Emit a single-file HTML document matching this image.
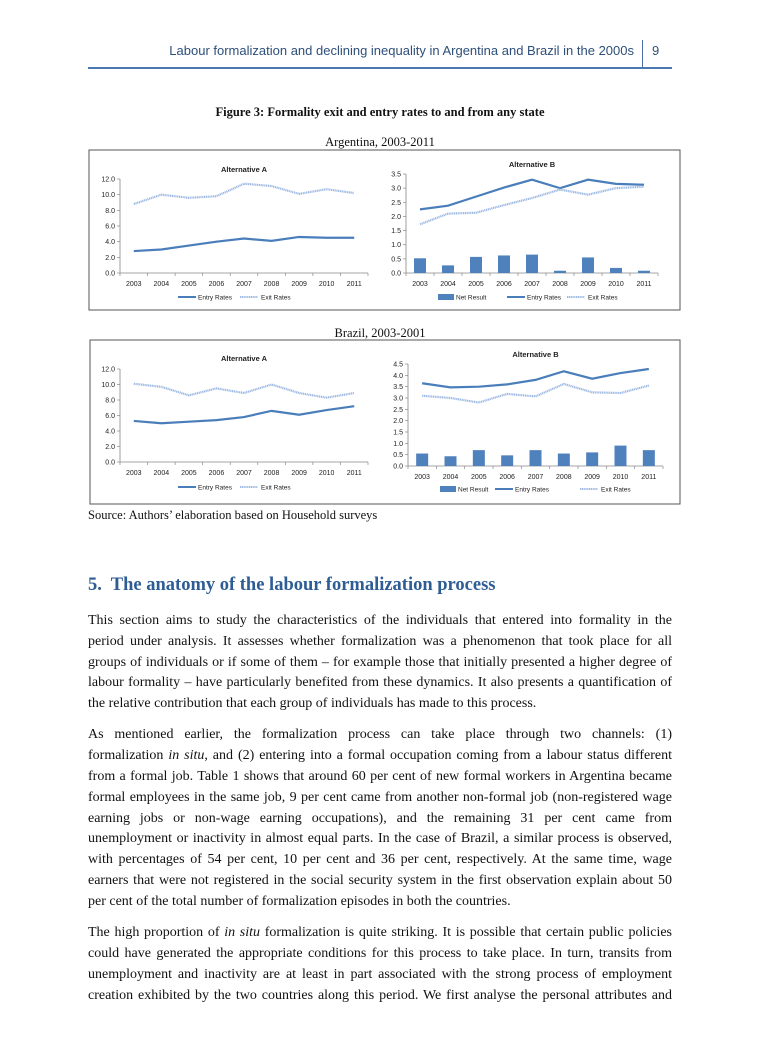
<!DOCTYPE html>
<html><head><meta charset="utf-8">
<style>
body{margin:0;background:#fff;}
#page{position:relative;width:760px;height:1062px;overflow:hidden;background:#fff;font-family:"Liberation Serif",serif;color:#111;}
.abs{position:absolute;}
.ln{position:absolute;left:88px;width:584px;font-size:14px;white-space:nowrap;text-align:justify;text-align-last:justify;}
.ln.last{text-align-last:left;}
svg text{font-family:"Liberation Sans",sans-serif;}
</style></head><body>
<div id="page">
<div class="abs" style="right:126px;top:43px;font-family:'Liberation Sans',sans-serif;font-size:13px;color:#2e4f7a;">Labour formalization and declining inequality in Argentina and Brazil in the 2000s</div>
<div class="abs" style="left:642px;top:40px;width:1px;height:27px;background:#4a6fa5;"></div>
<div class="abs" style="left:652px;top:43px;font-family:'Liberation Sans',sans-serif;font-size:13px;color:#2e4f7a;">9</div>
<div class="abs" style="left:88px;top:67px;width:584px;height:2px;background:#4a78b0;"></div>
<div class="abs" style="left:0;width:760px;text-align:center;top:105px;font-size:12.5px;font-weight:bold;">Figure 3: Formality exit and entry rates to and from any state</div>
<div class="abs" style="left:0;width:760px;text-align:center;top:135px;font-size:12.5px;">Argentina, 2003-2011</div>
<div class="abs" style="left:0;width:760px;text-align:center;top:326px;font-size:12.5px;">Brazil, 2003-2001</div>
<div class="abs" style="left:88px;top:508px;font-size:12.5px;">Source: Authors’ elaboration based on Household surveys</div>

<svg class="abs" style="left:0;top:0" width="760" height="560" id="charts">
<rect x="89" y="150" width="591" height="160" fill="none" stroke="#555" stroke-width="1"/>
<rect x="90" y="340" width="590" height="164" fill="none" stroke="#555" stroke-width="1"/>
</svg>

<div class="abs" style="left:88px;top:575px;font-size:18.5px;font-weight:bold;color:#2e5c94;font-family:'Liberation Serif',serif;">5.&nbsp; The anatomy of the labour formalization process</div>

<div>
<div class="ln" style="top:613px">This section aims to study the characteristics of the individuals that entered into formality in the</div>
<div class="ln" style="top:634px">period under analysis. It assesses whether formalization was a phenomenon that took place for all</div>
<div class="ln" style="top:655px">groups of individuals or if some of them – for example those that initially presented a higher degree of</div>
<div class="ln" style="top:675px">labour formality – have particularly benefited from these dynamics. It also presents a quantification of</div>
<div class="ln last" style="top:696px">the relative contribution that each group of individuals has made to this process.</div>
</div>
<div>
<div class="ln" style="top:727px">As mentioned earlier, the formalization process can take place through two channels: (1)</div>
<div class="ln" style="top:748px">formalization <i>in situ</i>, and (2) entering into a formal occupation coming from a labour status different</div>
<div class="ln" style="top:769px">from a formal job. Table 1 shows that around 60 per cent of new formal workers in Argentina became</div>
<div class="ln" style="top:790px">formal employees in the same job, 9 per cent came from another non-formal job (non-registered wage</div>
<div class="ln" style="top:811px">earning jobs or non-wage earning occupations), and the remaining 31 per cent came from</div>
<div class="ln" style="top:831px">unemployment or inactivity in almost equal parts. In the case of Brazil, a similar process is observed,</div>
<div class="ln" style="top:852px">with percentages of 54 per cent, 10 per cent and 36 per cent, respectively. At the same time, wage</div>
<div class="ln" style="top:873px">earners that were not registered in the social security system in the first observation explain about 50</div>
<div class="ln last" style="top:894px">per cent of the total number of formalization episodes in both the countries.</div>
</div>
<div>
<div class="ln" style="top:925px">The high proportion of <i>in situ</i> formalization is quite striking. It is possible that certain public policies</div>
<div class="ln" style="top:946px">could have generated the appropriate conditions for this process to take place. In turn, transits from</div>
<div class="ln" style="top:967px">unemployment and inactivity are at least in part associated with the strong process of employment</div>
<div class="ln" style="top:988px">creation exhibited by the two countries along this period. We first analyse the personal attributes and</div>
</div>
</div>
<script>
const years = ["2003","2004","2005","2006","2007","2008","2009","2010","2011"];
const argAEntry = [2.8,3.0,3.5,4.0,4.4,4.1,4.6,4.5,4.5];
const argAExit = [8.8,10.0,9.6,9.8,11.4,11.1,10.1,10.7,10.2];
const argBEntry = [2.25,2.38,2.7,3.02,3.3,3.0,3.3,3.15,3.12];
const argBExit = [1.72,2.1,2.13,2.4,2.65,2.95,2.77,3.0,3.05];
const argBNet = [0.52,0.27,0.57,0.62,0.65,0.08,0.55,0.18,0.08];
const braAEntry = [5.3,5.0,5.2,5.4,5.8,6.6,6.1,6.7,7.2];
const braAExit = [10.1,9.7,8.6,9.5,8.9,10.0,8.9,8.3,8.9];
const braBEntry = [3.65,3.47,3.5,3.6,3.8,4.18,3.85,4.1,4.28];
const braBExit = [3.1,3.0,2.8,3.18,3.07,3.62,3.25,3.22,3.55];
const braBNet = [0.55,0.43,0.7,0.47,0.7,0.55,0.6,0.9,0.7];
const ticksA = [0,2,4,6,8,10,12];
const ticksArgB = [0,0.5,1,1.5,2,2.5,3,3.5];
const ticksBraB = [0,0.5,1,1.5,2,2.5,3,3.5,4,4.5];

const NS="http://www.w3.org/2000/svg";
const svg=document.getElementById('charts');
function mk(tag,attrs,parent){const e=document.createElementNS(NS,tag);for(const k in attrs)e.setAttribute(k,attrs[k]);(parent||svg).appendChild(e);return e;}

function chart(cfg){
  const g=mk('g',{});
  
  
  const {x0,x1,yTop,yBot,max,ticks}=cfg;
  const n=years.length, step=(x1-x0)/n;
  const X=i=>x0+step*(i+0.5);
  const Y=v=>yBot-(v/max)*(yBot-yTop);
  const t=mk('text',{x:(x0+x1)/2,y:cfg.titleY,'text-anchor':'middle','font-size':'7.5','font-weight':'bold',fill:'#222'},g);
  t.textContent=cfg.title;
  
  
  const ax=mk('path',{d:`M${x0} ${yTop}V${yBot}H${x1}`,stroke:'#888','stroke-width':'0.8',fill:'none'},g);
  
  
  ticks.forEach(v=>{
    const y=Y(v);
    mk('line',{x1:x0-3,x2:x0,y1:y,y2:y,stroke:'#888','stroke-width':'0.7'},g);
    const tt=mk('text',{x:x0-5,y:y+2.5,'text-anchor':'end','font-size':'7',fill:'#222'},g);
    tt.textContent=v.toFixed(1);
    
    
  });
  for(let i=0;i<=n;i++){mk('line',{x1:x0+step*i,x2:x0+step*i,y1:yBot,y2:yBot+3,stroke:'#888','stroke-width':'0.7'},g);}
  years.forEach((yr,i)=>{
    const tt=mk('text',{x:X(i),y:cfg.labelY,'text-anchor':'middle','font-size':'7',fill:'#222'},g);
    tt.textContent=yr;
    
    
  });
  if(cfg.net){
    cfg.net.forEach((v,i)=>{
      const b=mk('rect',{x:X(i)-6,y:Y(v),width:12,height:yBot-Y(v),fill:'#4f81bd'},g);
      
      
    });
  }
  const pts=a=>a.map((v,i)=>X(i)+','+Y(v)).join(' ');
  const le=mk('polyline',{points:pts(cfg.entry),fill:'none',stroke:'#4a7ebb','stroke-width':'2.2'},g);
  
  
  const lx=mk('polyline',{points:pts(cfg.exit),fill:'none',stroke:'#9db9e3','stroke-width':'2.2','stroke-dasharray':'1.2 0.6'},g);
  
  
  const L=cfg.legend, ly=cfg.legendY;
  if(L.net!==undefined){
    const s=mk('rect',{x:L.net,y:ly-3,width:16,height:6,fill:'#4f81bd'},g);
    
    
    const tx=mk('text',{x:L.net+18,y:ly+2.5,'font-size':'6.5',fill:'#222'},g);tx.textContent='Net Result';
    
    
  }
  mk('line',{x1:L.entry,x2:L.entry+18,y1:ly,y2:ly,stroke:'#4a7ebb','stroke-width':'2'},g);
  const te=mk('text',{x:L.entry+20,y:ly+2.5,'font-size':'6.5',fill:'#222'},g);te.textContent='Entry Rates';
  
  
  mk('line',{x1:L.exit,x2:L.exit+18,y1:ly,y2:ly,stroke:'#9db9e3','stroke-width':'2','stroke-dasharray':'1.2 0.6'},g);
  const tx2=mk('text',{x:L.exit+21,y:ly+2.5,'font-size':'6.5',fill:'#222'},g);tx2.textContent='Exit Rates';
  
  
}
chart({name:'argentina-alt-a',title:'Alternative A',x0:120,x1:368,yTop:179,yBot:273,max:12,ticks:ticksA,titleY:172,labelY:286,legendY:297,entry:argAEntry,exit:argAExit,legend:{entry:178,exit:240}});
chart({name:'argentina-alt-b',title:'Alternative B',x0:406,x1:658,yTop:174,yBot:273,max:3.5,ticks:ticksArgB,titleY:167,labelY:286,legendY:297,entry:argBEntry,exit:argBExit,net:argBNet,legend:{net:438,entry:507,exit:567}});
chart({name:'brazil-alt-a',title:'Alternative A',x0:120,x1:368,yTop:369,yBot:462,max:12,ticks:ticksA,titleY:361,labelY:475,legendY:487,entry:braAEntry,exit:braAExit,legend:{entry:178,exit:240}});
chart({name:'brazil-alt-b',title:'Alternative B',x0:408,x1:663,yTop:364,yBot:466,max:4.5,ticks:ticksBraB,titleY:357,labelY:479,legendY:489,entry:braBEntry,exit:braBExit,net:braBNet,legend:{net:440,entry:495,exit:580}});
</script>
</body></html>
